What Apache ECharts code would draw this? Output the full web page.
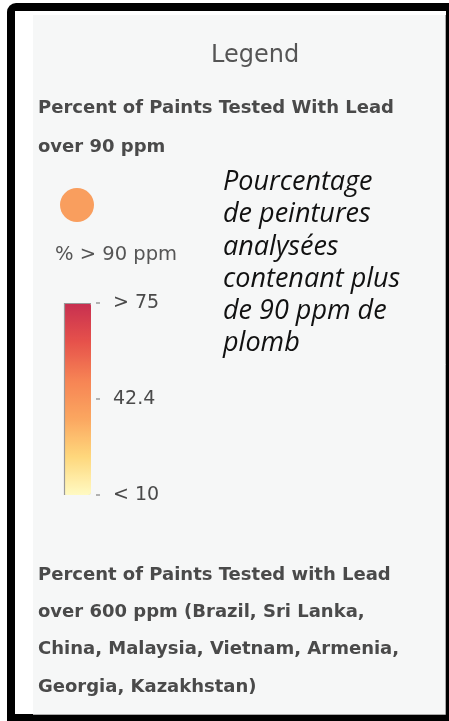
<!DOCTYPE html>
<html>
<head>
<meta charset="utf-8">
<script src="https://cdn.jsdelivr.net/npm/echarts@6/dist/echarts.min.js"></script>
<style>
  html, body { margin: 0; padding: 0; background: #fff; }
  #main { width: 449px; height: 721px; }
</style>
</head>
<body>
<div id="main"></div>
<script>
    // legend content
    var legendTitle = 'Legend';
    var heading90 = ['Percent of Paints Tested With Lead', 'over 90 ppm'];
    var frenchNote = ['Pourcentage', 'de peintures', 'analysées', 'contenant plus', 'de 90 ppm de', 'plomb'];
    var sizeLabel = '% > 90 ppm';
    var scaleMin = 10;
    var scaleMax = 75;
    var scaleLabels = ['< 10', '42.4', '> 75'];
    var rampColors = ['#fffac2', '#fed77c', '#fba660', '#f68354', '#e6514b', '#c72f50'];
    var heading600 = ['Percent of Paints Tested with Lead', 'over 600 ppm (Brazil, Sri Lanka,',
        'China, Malaysia, Vietnam, Armenia,', 'Georgia, Kazakhstan)'];

    var myChart = echarts.init(document.getElementById('main'));

    var uiFont = '"DejaVu Sans", sans-serif';

    function textLines(lines, x, y0, step, style) {
        return lines.map(function(t, i) {
            return {
                type: 'text', left: x, top: y0 + i * step, z: 10,
                style: Object.assign({ text: t }, style)
            };
        });
    }

    var graphics = [
        // frame
        { type: 'rect', shape: { x: 7, y: 3, width: 452, height: 730, r: 9 }, style: { fill: '#000' }, z: 0 },
        { type: 'rect', shape: { x: 15, y: 11, width: 431, height: 703 }, style: { fill: '#fff' }, z: 1 },
        { type: 'rect', shape: { x: 33, y: 15, width: 412, height: 699 }, style: { fill: '#f6f7f7' }, z: 2 },
        { type: 'polyline', shape: { points: [[445.5, 15], [445.5, 714.5], [33, 714.5]] }, style: { stroke: '#aaa', lineWidth: 1, fill: null }, z: 3 },
        // title
        { type: 'text', left: 211, top: 44, z: 10, style: { text: legendTitle, font: '24px ' + uiFont, fill: '#555' } },
        // sample symbol
        { type: 'circle', shape: { cx: 77, cy: 205, r: 17 }, style: { fill: '#f99e5e' }, z: 10 },
        { type: 'text', left: 55, top: 245, z: 10, style: { text: sizeLabel, font: '19.5px ' + uiFont, fill: '#555' } },
        // edge of ramp
        { type: 'polyline', shape: { points: [[64.5, 495], [64.5, 303.5], [91, 303.5]] }, style: { stroke: '#999', lineWidth: 1.2, fill: null }, z: 20 }
    ];
    graphics = graphics
        .concat(textLines(heading90, 38, 99, 39, { font: 'bold 18px ' + uiFont, fill: '#4a4a4a' }))
        .concat(textLines(frenchNote, 223, 169, 32.2, { font: 'italic 27px "Open Sans", sans-serif', fill: '#111' }))
        .concat(textLines(heading600, 38, 566, 37.3, { font: 'bold 18px ' + uiFont, fill: '#4a4a4a' }));

    var option = {
        animation: false,
        backgroundColor: '#fff',
        graphic: graphics,
        visualMap: {
            type: 'continuous',
            min: scaleMin,
            max: scaleMax,
            left: 64,
            top: 303,
            padding: 0,
            itemWidth: 27,
            itemHeight: 192,
            calculable: false,
            seriesIndex: [],
            inRange: { color: rampColors },
            z: 15
        },
        grid: { left: 64, top: 303, width: 32, height: 192, z: 20 },
        xAxis: { type: 'value', show: false, min: 0, max: 1, z: 20 },
        yAxis: {
            type: 'category',
            z: 20,
            data: scaleLabels,
            boundaryGap: false,
            position: 'right',
            axisLine: { show: false, onZero: false },
            axisTick: { show: true, length: 4, lineStyle: { color: '#9a9a9a', width: 1.5 } },
            axisLabel: { margin: 17, color: '#4a4a4a', fontSize: 19, fontFamily: 'DejaVu Sans' },
            splitLine: { show: false }
        },
        series: [{ type: 'scatter', data: [], silent: true }]
    };
    myChart.setOption(option);
</script>
</body>
</html>
